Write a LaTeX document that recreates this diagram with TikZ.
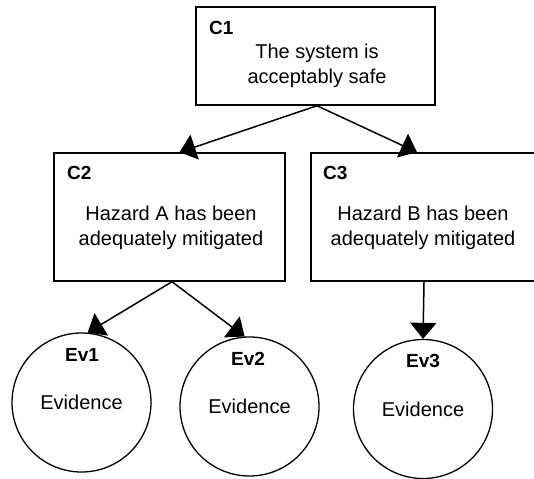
\documentclass[tikz,border=0pt]{standalone}
\usepackage{fontspec}
\setmainfont{Liberation Sans}
\usetikzlibrary{arrows.meta}
\begin{document}
\begin{tikzpicture}[x=1pt,y=-1pt,
  box/.style={draw,line width=1.5pt,rectangle,inner sep=0pt},
  ev/.style={draw,line width=1.3pt,circle,minimum size=139pt,inner sep=0pt,font=\fontsize{20}{25}\selectfont},
  lbl/.style={font=\fontsize{19}{24}\selectfont\bfseries,inner sep=0pt},
  txt/.style={font=\fontsize{20}{25.5}\selectfont,align=center,inner sep=0pt},
  conn/.style={line width=1.5pt,-{Triangle[length=16pt,width=26pt]}}]
\useasboundingbox (0,0) rectangle (534,478);
\clip (0,0) rectangle (534,478);
% boxes
\node[box,minimum width=239pt,minimum height=98pt] (C1) at (315.5,56) {};
\node[box,minimum width=231pt,minimum height=128pt] (C2) at (169.5,217) {};
\node[box,minimum width=231pt,minimum height=128pt] (C3) at (426.5,217) {};
\node[lbl,anchor=west] (C1l) at (209,28) {C1};
\node[lbl,anchor=west] (C2l) at (67,173) {C2};
\node[lbl,anchor=west] (C3l) at (323,173) {C3};
\node[txt] (C1t) at (317,66) {The system is\\acceptably safe};
\node[txt] (C2t) at (171,228) {Hazard A has been\\adequately mitigated};
\node[txt] (C3t) at (423,228) {Hazard B has been\\adequately mitigated};
% evidence circles
\node[ev] (Ev1) at (81.5,402.5) {Evidence};
\node[ev] (Ev2) at (249.5,406.5) {Evidence};
\node[ev] (Ev3) at (423,409) {Evidence};
\node[lbl] (Ev1l) at (82,355) {Ev1};
\node[lbl] (Ev2l) at (248,359) {Ev2};
\node[lbl] (Ev3l) at (423,361) {Ev3};
% connectors
\draw[conn] ([xshift=1.5pt]C1.south) -- ([xshift=10pt]C2.north);
\draw[conn] ([xshift=1.5pt]C1.south) -- ([xshift=-9.5pt]C3.north);
\draw[conn] ([xshift=2.5pt]C2.south) -- (Ev1.85);
\draw[conn] ([xshift=2.5pt]C2.south) -- (Ev2.94);
\draw[conn] ([xshift=-2.5pt]C3.south) -- (Ev3.north);
\end{tikzpicture}
\end{document}
